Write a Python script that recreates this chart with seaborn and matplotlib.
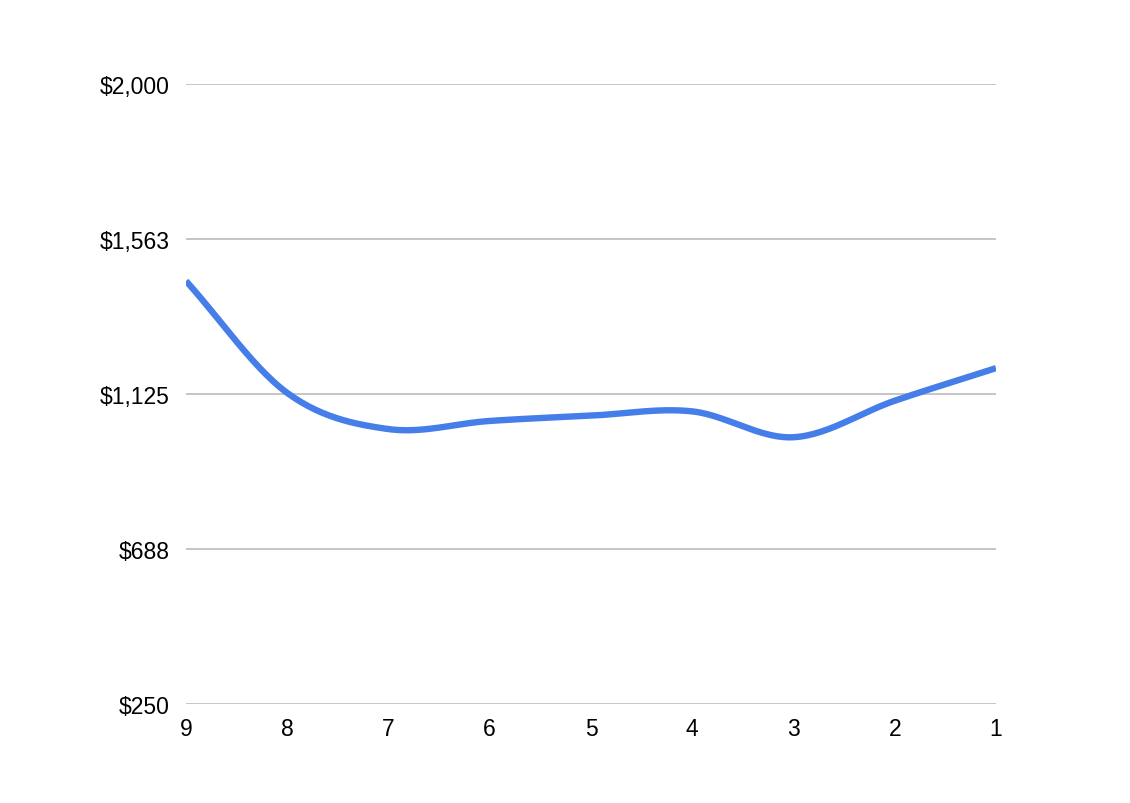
import numpy as np
import pandas as pd
import matplotlib
matplotlib.use("Agg")
import matplotlib.pyplot as plt
import seaborn as sns

# data
labels = ["9", "8", "7", "6", "5", "4", "3", "2", "1"]
values = [1444, 1128, 1026, 1049, 1064, 1076, 1003, 1106, 1198]
yticks = [250, 688, 1125, 1563, 2000]
ytick_labels = ["$250", "$688", "$1,125", "$1,563", "$2,000"]

sns.set_theme(style="white")
plt.rcParams["font.family"] = ["Liberation Sans", "DejaVu Sans"]

pos = np.arange(len(labels))
vals = np.array(values, dtype=float)

# smooth the drawn line (Catmull-Rom through the data points)
p = np.concatenate([[2 * vals[0] - vals[1]], vals, [2 * vals[-1] - vals[-2]]])
xs, ys = [], []
t = np.linspace(0, 1, 30)
for i in range(len(vals) - 1):
    p0, p1, p2, p3 = p[i], p[i + 1], p[i + 2], p[i + 3]
    seg = 0.5 * ((2 * p1) + (-p0 + p2) * t + (2 * p0 - 5 * p1 + 4 * p2 - p3) * t**2
                 + (-p0 + 3 * p1 - 3 * p2 + p3) * t**3)
    xs.extend(pos[i] + t)
    ys.extend(seg)
curve = pd.DataFrame({"x": xs, "y": ys})

fig = plt.figure(figsize=(11.3, 8.04), dpi=100)
ax = fig.add_axes([0.1646, 0.1231, 0.8814 - 0.1646, 0.8943 - 0.1231])

for yv in yticks:
    ax.axhline(yv, color="#c0c0c0", lw=1.3, zorder=1)

sns.lineplot(data=curve, x="x", y="y", ax=ax, color="#467ee9", lw=4.6,
             sort=False, solid_capstyle="butt", zorder=3)

ax.set_xlim(0, len(labels) - 1)
ax.set_ylim(250, 2000)
ax.set_xticks(pos)
ax.set_xticklabels(labels)
ax.set_yticks(yticks)
ax.set_yticklabels(ytick_labels)
ax.tick_params(axis="both", length=0, labelsize=16.5, colors="black")
ax.tick_params(axis="y", pad=11.5)
ax.tick_params(axis="x", pad=9.5)
ax.set_xlabel("")
ax.set_ylabel("")
for s in ax.spines.values():
    s.set_visible(False)

fig.savefig("out.png", dpi=100, facecolor="white")
